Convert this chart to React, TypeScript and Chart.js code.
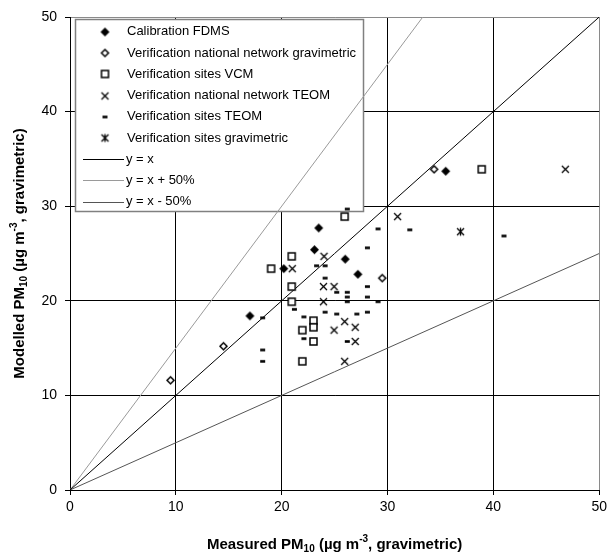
import React, { useEffect, useRef } from 'react';
import { Chart, registerables } from 'chart.js';
Chart.register(...registerables);

// ---- data (x = measured, y = modelled) ----
const calibrationFDMS: number[][] = [
  [17.0, 18.4], [20.2, 23.4], [23.1, 25.4], [23.5, 27.7], [26.0, 24.4], [27.2, 22.8], [35.5, 33.7],
];
const verNatGrav: number[][] = [
  [9.5, 11.6], [14.5, 15.2], [29.5, 22.4], [34.4, 33.9],
];
const verSitesVCM: number[][] = [
  [19.0, 23.4], [20.95, 24.7], [20.95, 21.5], [20.95, 19.9], [23.0, 17.9], [23.0, 17.2],
  [21.95, 16.9], [23.0, 15.7], [21.95, 13.6], [25.95, 28.9], [38.9, 33.9],
];
const verNatTEOM: number[][] = [
  [21.0, 23.4], [24.0, 24.7], [23.95, 21.5], [24.95, 21.5], [23.95, 19.9], [30.95, 28.9],
  [25.95, 17.8], [24.95, 16.9], [26.95, 17.2], [26.95, 15.7], [25.95, 13.6], [46.8, 33.9],
];
const verSitesTEOM: number[][] = [
  [21.2, 19.1], [18.2, 18.2], [18.2, 14.8], [18.2, 13.6], [22.1, 18.3], [22.1, 16.0],
  [23.3, 23.7], [24.1, 23.7], [24.1, 22.4], [26.2, 29.7], [29.1, 27.6], [32.1, 27.5],
  [28.1, 25.6], [25.2, 20.9], [26.2, 20.9], [26.2, 20.4], [26.2, 19.9], [28.1, 21.5],
  [28.1, 20.4], [29.1, 19.9], [24.1, 18.8], [25.2, 18.6], [27.1, 18.6], [28.1, 18.8],
  [26.2, 15.7], [41.0, 26.85],
];
const verSitesGrav: number[][] = [[36.9, 27.3]];

const lineYX: number[][] = [[0, 0], [50, 50]];
const lineYXPlus: number[][] = [[0, 0], [50 / 1.5, 50]];
const lineYXMinus: number[][] = [[0, 0], [50, 25]];

const axisTicks = [0, 10, 20, 30, 40, 50];

const seriesNames = [
  'Calibration FDMS',
  'Verification national network gravimetric',
  'Verification sites VCM',
  'Verification national network TEOM',
  'Verification sites TEOM',
  'Verification sites gravimetric',
];
const lineNames = ['y = x', 'y = x + 50%', 'y = x - 50%'];
const lineColors = ['#000000', '#9a9a9a', '#555555'];

const FONT = '"Liberation Sans", Arial, Helvetica, sans-serif';

function makeMarker(kind: string): HTMLCanvasElement {
  const c = document.createElement('canvas');
  const s = 11;
  c.width = s;
  c.height = s;
  const g = c.getContext('2d')!;
  g.strokeStyle = '#000';
  g.fillStyle = '#000';
  const m = s / 2;
  switch (kind) {
    case 'diamondFilled':
      g.beginPath();
      g.moveTo(m, 1); g.lineTo(s - 1, m); g.lineTo(m, s - 1); g.lineTo(1, m); g.closePath();
      g.fill();
      break;
    case 'diamondOpen':
      g.beginPath();
      g.moveTo(m, 2); g.lineTo(s - 2, m); g.lineTo(m, s - 2); g.lineTo(2, m); g.closePath();
      g.fillStyle = '#fff'; g.fill();
      g.lineWidth = 1.5; g.stroke();
      break;
    case 'square':
      g.fillStyle = '#fff'; g.fillRect(2, 2, 7, 7);
      g.lineWidth = 1.5; g.strokeRect(2, 2, 7, 7);
      break;
    case 'x':
      g.lineWidth = 1.3;
      g.beginPath();
      g.moveTo(2, 2); g.lineTo(9, 9); g.moveTo(9, 2); g.lineTo(2, 9);
      g.stroke();
      break;
    case 'dash':
      g.fillRect(3, 4.2, 5, 2.6);
      break;
    case 'asterisk':
      g.lineWidth = 1.3;
      g.beginPath();
      g.moveTo(2, 2); g.lineTo(9, 9); g.moveTo(9, 2); g.lineTo(2, 9);
      g.moveTo(m, 1.5); g.lineTo(m, 9.5);
      g.stroke();
      break;
  }
  return c;
}

type Part = { t: string; sub?: boolean; sup?: boolean };

function drawRich(ctx: CanvasRenderingContext2D, parts: Part[], cx: number, cy: number, rot: boolean) {
  const big = `bold 15px ${FONT}`;
  const small = `bold 10px ${FONT}`;
  let total = 0;
  const widths = parts.map((p) => {
    ctx.font = p.sub || p.sup ? small : big;
    const w = ctx.measureText(p.t).width;
    total += w;
    return w;
  });
  ctx.save();
  ctx.translate(cx, cy);
  if (rot) ctx.rotate(-Math.PI / 2);
  ctx.fillStyle = '#000';
  ctx.textBaseline = 'middle';
  ctx.textAlign = 'left';
  let x = -total / 2;
  parts.forEach((p, i) => {
    ctx.font = p.sub || p.sup ? small : big;
    const dy = p.sub ? 4 : p.sup ? -6 : 0;
    ctx.fillText(p.t, x, dy);
    x += widths[i];
  });
  ctx.restore();
}

export default function App() {
  const ref = useRef<HTMLCanvasElement>(null);

  useEffect(() => {
    const markers = ['diamondFilled', 'diamondOpen', 'square', 'x', 'dash', 'asterisk'].map(makeMarker);
    const pointSets = [calibrationFDMS, verNatGrav, verSitesVCM, verNatTEOM, verSitesTEOM, verSitesGrav];
    const lineSets = [lineYX, lineYXPlus, lineYXMinus];

    const toXY = (a: number[][]) => a.map(([x, y]) => ({ x, y }));

    const datasets: any[] = pointSets.map((d, i) => ({
      type: 'scatter',
      label: seriesNames[i],
      data: toXY(d),
      pointStyle: markers[i],
      pointRadius: 5,
      showLine: false,
    }));
    lineSets.forEach((d, i) => {
      datasets.push({
        type: 'line',
        label: lineNames[i],
        data: toXY(d),
        borderColor: lineColors[i],
        borderWidth: 1,
        pointRadius: 0,
        showLine: true,
        fill: false,
      });
    });

    const legendPlugin = {
      id: 'customLegend',
      beforeDatasetsDraw(chart: any) {
        const ctx = chart.ctx as CanvasRenderingContext2D;
        ctx.save();
        const bx = 75.5, by = 19.5, bw = 288, bh = 192;
        ctx.fillStyle = '#fff';
        ctx.fillRect(bx, by, bw, bh);
        ctx.strokeStyle = '#808080';
        ctx.lineWidth = 1.5;
        ctx.strokeRect(bx, by, bw, bh);
        const rows = [31.7, 53.2, 74.4, 95.6, 116.8, 138, 159.2, 180.4, 201.6];
        ctx.font = `13px ${FONT}`;
        ctx.fillStyle = '#000';
        ctx.textBaseline = 'middle';
        ctx.textAlign = 'left';
        seriesNames.forEach((name, i) => {
          const y = rows[i];
          ctx.drawImage(markers[i], 105 - 5.5, Math.round(y) - 5.5);
          ctx.fillText(name, 127, y);
        });
        lineNames.forEach((name, i) => {
          const y = rows[6 + i];
          ctx.strokeStyle = lineColors[i];
          ctx.lineWidth = 1;
          ctx.beginPath();
          ctx.moveTo(83, Math.round(y) + 0.5);
          ctx.lineTo(124, Math.round(y) + 0.5);
          ctx.stroke();
          ctx.fillStyle = '#000';
          ctx.fillText(name, 126, y);
        });
        ctx.restore();
      },
      afterDraw(chart: any) {
        const ctx = chart.ctx as CanvasRenderingContext2D;
        const ca = chart.chartArea;
        drawRich(
          ctx,
          [{ t: 'Measured PM' }, { t: '10', sub: true }, { t: ' (µg m' }, { t: '-3', sup: true }, { t: ', gravimetric)' }],
          (ca.left + ca.right) / 2,
          545,
          false
        );
        drawRich(
          ctx,
          [{ t: 'Modelled PM' }, { t: '10', sub: true }, { t: ' (µg m' }, { t: '-3', sup: true }, { t: ', gravimetric)' }],
          20,
          (ca.top + ca.bottom) / 2,
          true
        );
      },
    };

    const gridColor = (c: any) => (c.tick && c.tick.value === 50 ? '#8a8a8a' : '#000');

    const chart = new Chart(ref.current!, {
      type: 'scatter',
      data: { datasets },
      options: {
        animation: false,
        responsive: false,
        devicePixelRatio: 1,
        layout: { padding: { top: 17, right: 8, left: 0, bottom: 0 } },
        plugins: { legend: { display: false }, tooltip: { enabled: false } },
        scales: {
          x: {
            type: 'linear',
            min: 0,
            max: 50,
            afterBuildTicks: (s: any) => { s.ticks = axisTicks.map((v) => ({ value: v })); },
            ticks: { color: '#000', font: { size: 14, family: FONT }, padding: 4, maxRotation: 0 },
            grid: { color: gridColor, lineWidth: 1, tickLength: 5, tickColor: '#000' },
            border: { color: '#000', width: 1 },
            afterFit: (s: any) => { s.height = 66; },
          },
          y: {
            type: 'linear',
            min: 0,
            max: 50,
            afterBuildTicks: (s: any) => { s.ticks = axisTicks.map((v) => ({ value: v })); },
            ticks: { color: '#000', font: { size: 14, family: FONT }, padding: 8 },
            grid: { color: gridColor, lineWidth: 1, tickLength: 5, tickColor: '#000' },
            border: { color: '#000', width: 1 },
            afterFit: (s: any) => { s.width = 70; },
          },
        },
      } as any,
      plugins: [legendPlugin],
    });
    return () => chart.destroy();
  }, []);

  return (
    <div style={{ position: 'absolute', left: 0, top: 0, width: 611, height: 556, background: '#fff' }}>
      <canvas ref={ref} width={611} height={556} style={{ display: 'block', width: 611, height: 556 }} />
    </div>
  );
}
